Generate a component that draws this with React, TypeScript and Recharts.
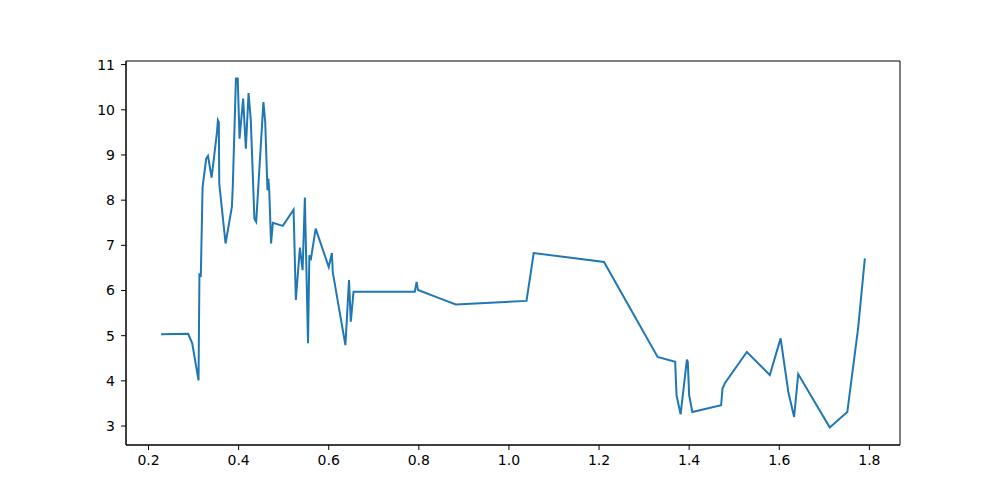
import React from 'react'
import { LineChart, Line, XAxis, YAxis, ReferenceArea } from 'recharts'

const xValues = [
  0.228, 0.288, 0.297, 0.311, 0.313, 0.316, 0.32, 0.328, 0.332, 0.34,
  0.346, 0.352, 0.354, 0.356, 0.357, 0.371, 0.385, 0.387, 0.394, 0.398,
  0.402, 0.41, 0.416, 0.422, 0.427, 0.435, 0.439, 0.455, 0.459, 0.464,
  0.466, 0.468, 0.472, 0.476, 0.498, 0.522, 0.527, 0.536, 0.542, 0.547,
  0.554, 0.557, 0.56, 0.571, 0.6, 0.607, 0.609, 0.637, 0.645, 0.649,
  0.655, 0.791, 0.795, 0.798, 0.848, 0.882, 1.039, 1.055, 1.211, 1.33,
  1.369, 1.372, 1.381, 1.395, 1.397, 1.4, 1.407, 1.471, 1.474, 1.48,
  1.528, 1.579, 1.603, 1.62, 1.633, 1.642, 1.712, 1.751, 1.775, 1.79,
]

const yValues = [
  5.03, 5.04, 4.83, 4.01, 6.38, 6.3, 8.29, 8.92, 8.98, 8.5,
  9.0, 9.51, 9.77, 9.73, 8.37, 7.04, 7.85, 8.29, 10.69, 10.69,
  9.36, 10.25, 9.14, 10.37, 9.77, 7.59, 7.52, 10.17, 9.73, 8.22,
  8.48, 8.2, 7.04, 7.5, 7.43, 7.79, 5.79, 6.95, 6.45, 8.06,
  4.83, 6.78, 6.67, 7.37, 6.52, 6.83, 6.4, 4.79, 6.23, 5.31,
  5.97, 5.97, 6.19, 6.01, 5.82, 5.69, 5.77, 6.83, 6.63, 4.53,
  4.42, 3.68, 3.26, 4.47, 4.42, 3.68, 3.31, 3.46, 3.83, 3.96,
  4.64, 4.13, 4.94, 3.76, 3.2, 4.15, 2.97, 3.31, 5.16, 6.71,
]

const xTicks = [0.2, 0.4, 0.6, 0.8, 1.0, 1.2, 1.4, 1.6, 1.8]
const yTicks = [3, 4, 5, 6, 7, 8, 9, 10, 11]

const data = xValues.map((x, i) => ({ x, y: yValues[i] }))

const X_DOMAIN: [number, number] = [0.15, 1.868]
const Y_DOMAIN: [number, number] = [2.58, 11.08]

const tickStyle = { fill: '#000', fontSize: 14, fontFamily: 'DejaVu Sans' }

export default function App() {
  return (
    <div style={{ position: 'absolute', left: 0, top: 0, background: '#fff' }}>
      <LineChart width={1000} height={500} data={data} margin={{ top: 61, right: 100, bottom: 25, left: 66 }}>
        <XAxis
          dataKey="x"
          type="number"
          domain={X_DOMAIN}
          ticks={xTicks}
          allowDataOverflow
          tickFormatter={(v: number) => v.toFixed(1)}
          tick={tickStyle}
          tickSize={5}
          tickMargin={5}
          height={30}
          stroke="#000"
          tickLine={{ stroke: '#000' }}
        />
        <YAxis
          type="number"
          domain={Y_DOMAIN}
          ticks={yTicks}
          allowDataOverflow
          tick={tickStyle}
          tickSize={5}
          tickMargin={6}
          width={60}
          stroke="#000"
          tickLine={{ stroke: '#000' }}
        />
        <ReferenceArea x1={X_DOMAIN[0]} x2={X_DOMAIN[1]} y1={Y_DOMAIN[0]} y2={Y_DOMAIN[1]} fill="none" stroke="#000" strokeWidth={1} />
        <Line dataKey="y" stroke="#1f77b4" strokeWidth={2} dot={false} isAnimationActive={false} type="linear" />
      </LineChart>
    </div>
  )
}
